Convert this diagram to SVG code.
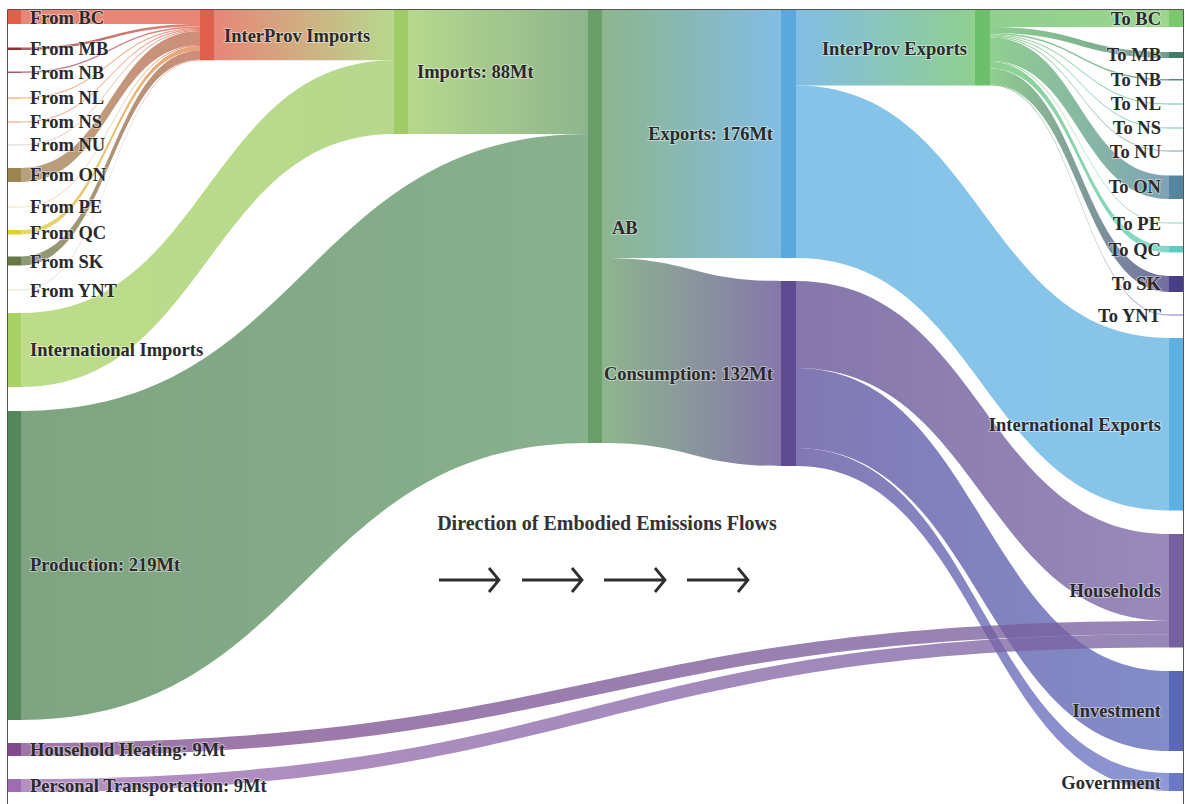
<svg xmlns="http://www.w3.org/2000/svg" width="1185" height="804" viewBox="0 0 1185 804">
<style>
.lbl{font-family:"Liberation Serif","Times New Roman",serif;font-weight:bold;font-size:18.5px;fill:#2a2a2a;paint-order:stroke;stroke:#fff;stroke-width:2px;stroke-opacity:0.45;stroke-linejoin:round}
.r{text-anchor:end}
.ttl{font-family:"Liberation Serif","Times New Roman",serif;font-weight:bold;font-size:20px;fill:#333;text-anchor:middle}
.lk{opacity:0.76}
.arr{fill:none;stroke:#2e2e2e;stroke-width:2.8;stroke-linecap:butt;stroke-linejoin:miter}
.frame{fill:none;stroke:#555;stroke-width:1}
</style>
<defs>
<linearGradient id="gBC" gradientUnits="userSpaceOnUse" x1="21" y1="0" x2="200" y2="0"><stop offset="0" stop-color="#e0604c"/><stop offset="1" stop-color="#e0604c"/></linearGradient>
<linearGradient id="gMB" gradientUnits="userSpaceOnUse" x1="21" y1="0" x2="200" y2="0"><stop offset="0" stop-color="#8e2f2f"/><stop offset="1" stop-color="#e0604c"/></linearGradient>
<linearGradient id="gNB" gradientUnits="userSpaceOnUse" x1="21" y1="0" x2="200" y2="0"><stop offset="0" stop-color="#a4587a"/><stop offset="1" stop-color="#e0604c"/></linearGradient>
<linearGradient id="gNL" gradientUnits="userSpaceOnUse" x1="21" y1="0" x2="200" y2="0"><stop offset="0" stop-color="#f09848"/><stop offset="1" stop-color="#e0604c"/></linearGradient>
<linearGradient id="gNS" gradientUnits="userSpaceOnUse" x1="21" y1="0" x2="200" y2="0"><stop offset="0" stop-color="#e89a68"/><stop offset="1" stop-color="#e0604c"/></linearGradient>
<linearGradient id="gNU" gradientUnits="userSpaceOnUse" x1="21" y1="0" x2="200" y2="0"><stop offset="0" stop-color="#d8cfc8"/><stop offset="1" stop-color="#e0604c"/></linearGradient>
<linearGradient id="gON" gradientUnits="userSpaceOnUse" x1="21" y1="0" x2="200" y2="0"><stop offset="0" stop-color="#9c8450"/><stop offset="1" stop-color="#c06a50"/></linearGradient>
<linearGradient id="gPE" gradientUnits="userSpaceOnUse" x1="21" y1="0" x2="200" y2="0"><stop offset="0" stop-color="#f0e4a8"/><stop offset="1" stop-color="#e0604c"/></linearGradient>
<linearGradient id="gQC" gradientUnits="userSpaceOnUse" x1="21" y1="0" x2="200" y2="0"><stop offset="0" stop-color="#dcd234"/><stop offset="1" stop-color="#e08050"/></linearGradient>
<linearGradient id="gSK" gradientUnits="userSpaceOnUse" x1="21" y1="0" x2="200" y2="0"><stop offset="0" stop-color="#667845"/><stop offset="1" stop-color="#c06a50"/></linearGradient>
<linearGradient id="gYNT" gradientUnits="userSpaceOnUse" x1="21" y1="0" x2="200" y2="0"><stop offset="0" stop-color="#dcdcc4"/><stop offset="1" stop-color="#e0604c"/></linearGradient>
<linearGradient id="gIPI" gradientUnits="userSpaceOnUse" x1="214" y1="0" x2="394" y2="0"><stop offset="0" stop-color="#e0604c"/><stop offset="1" stop-color="#a0cc68"/></linearGradient>
<linearGradient id="gII" gradientUnits="userSpaceOnUse" x1="21" y1="0" x2="394" y2="0"><stop offset="0" stop-color="#a8d265"/><stop offset="1" stop-color="#a0cc68"/></linearGradient>
<linearGradient id="gPROD" gradientUnits="userSpaceOnUse" x1="21" y1="0" x2="588" y2="0"><stop offset="0" stop-color="#55875a"/><stop offset="1" stop-color="#64986a"/></linearGradient>
<linearGradient id="gIMP" gradientUnits="userSpaceOnUse" x1="408" y1="0" x2="588" y2="0"><stop offset="0" stop-color="#a0cc68"/><stop offset="1" stop-color="#6a9e6a"/></linearGradient>
<linearGradient id="gABE" gradientUnits="userSpaceOnUse" x1="602" y1="0" x2="781" y2="0"><stop offset="0" stop-color="#6a9e6a"/><stop offset="1" stop-color="#5aa8dc"/></linearGradient>
<linearGradient id="gABC" gradientUnits="userSpaceOnUse" x1="602" y1="0" x2="781" y2="0"><stop offset="0" stop-color="#6a9e6a"/><stop offset="1" stop-color="#5f4c90"/></linearGradient>
<linearGradient id="gEIPE" gradientUnits="userSpaceOnUse" x1="796" y1="0" x2="975" y2="0"><stop offset="0" stop-color="#5aa8dc"/><stop offset="1" stop-color="#6cc06c"/></linearGradient>
<linearGradient id="gEIE" gradientUnits="userSpaceOnUse" x1="796" y1="0" x2="1169" y2="0"><stop offset="0" stop-color="#5eb0e2"/><stop offset="1" stop-color="#62b2e2"/></linearGradient>
<linearGradient id="gCH" gradientUnits="userSpaceOnUse" x1="796" y1="0" x2="1169" y2="0"><stop offset="0" stop-color="#5f4c90"/><stop offset="1" stop-color="#7a64a4"/></linearGradient>
<linearGradient id="gCI" gradientUnits="userSpaceOnUse" x1="796" y1="0" x2="1169" y2="0"><stop offset="0" stop-color="#5a4e9c"/><stop offset="1" stop-color="#5a68b8"/></linearGradient>
<linearGradient id="gCG" gradientUnits="userSpaceOnUse" x1="796" y1="0" x2="1169" y2="0"><stop offset="0" stop-color="#5a4e9c"/><stop offset="1" stop-color="#6a78c8"/></linearGradient>
<linearGradient id="gHH" gradientUnits="userSpaceOnUse" x1="21" y1="0" x2="1169" y2="0"><stop offset="0" stop-color="#804a8c"/><stop offset="1" stop-color="#7660a0"/></linearGradient>
<linearGradient id="gPT" gradientUnits="userSpaceOnUse" x1="21" y1="0" x2="1169" y2="0"><stop offset="0" stop-color="#9e6cb0"/><stop offset="1" stop-color="#7660a0"/></linearGradient>
<linearGradient id="tBC" gradientUnits="userSpaceOnUse" x1="990" y1="0" x2="1169" y2="0"><stop offset="0" stop-color="#6cc06c"/><stop offset="1" stop-color="#7cc86c"/></linearGradient>
<linearGradient id="tMB" gradientUnits="userSpaceOnUse" x1="990" y1="0" x2="1169" y2="0"><stop offset="0" stop-color="#6cc06c"/><stop offset="1" stop-color="#447c6c"/></linearGradient>
<linearGradient id="tNB" gradientUnits="userSpaceOnUse" x1="990" y1="0" x2="1169" y2="0"><stop offset="0" stop-color="#6cc06c"/><stop offset="1" stop-color="#4a907e"/></linearGradient>
<linearGradient id="tNL" gradientUnits="userSpaceOnUse" x1="990" y1="0" x2="1169" y2="0"><stop offset="0" stop-color="#6cc06c"/><stop offset="1" stop-color="#5cc09a"/></linearGradient>
<linearGradient id="tNS" gradientUnits="userSpaceOnUse" x1="990" y1="0" x2="1169" y2="0"><stop offset="0" stop-color="#6cc06c"/><stop offset="1" stop-color="#6ac4b0"/></linearGradient>
<linearGradient id="tNU" gradientUnits="userSpaceOnUse" x1="990" y1="0" x2="1169" y2="0"><stop offset="0" stop-color="#6cc06c"/><stop offset="1" stop-color="#7c98aa"/></linearGradient>
<linearGradient id="tON" gradientUnits="userSpaceOnUse" x1="990" y1="0" x2="1169" y2="0"><stop offset="0" stop-color="#6cc06c"/><stop offset="1" stop-color="#56869e"/></linearGradient>
<linearGradient id="tPE" gradientUnits="userSpaceOnUse" x1="990" y1="0" x2="1169" y2="0"><stop offset="0" stop-color="#6cc06c"/><stop offset="1" stop-color="#8cd2c2"/></linearGradient>
<linearGradient id="tQC" gradientUnits="userSpaceOnUse" x1="990" y1="0" x2="1169" y2="0"><stop offset="0" stop-color="#6cc06c"/><stop offset="1" stop-color="#5ccdc0"/></linearGradient>
<linearGradient id="tSK" gradientUnits="userSpaceOnUse" x1="990" y1="0" x2="1169" y2="0"><stop offset="0" stop-color="#6cc06c"/><stop offset="1" stop-color="#463e86"/></linearGradient>
<linearGradient id="tYNT" gradientUnits="userSpaceOnUse" x1="990" y1="0" x2="1169" y2="0"><stop offset="0" stop-color="#6cc06c"/><stop offset="1" stop-color="#7e76c2"/></linearGradient>
</defs>
<rect x="0" y="0" width="1185" height="804" fill="#fff"/>
<g id="connectors">
<path class="lk" fill="url(#gBC)" d="M21,10 L200,10 L200,24 L21,24 Z"/>
<path class="lk" fill="url(#gMB)" d="M21,47.5 C110.5,47.5 110.5,24 200,24 L200,26.5 C110.5,26.5 110.5,50 21,50 Z"/>
<path class="lk" fill="url(#gNB)" d="M21,71.5 C110.5,71.5 110.5,26.5 200,26.5 L200,28 C110.5,28 110.5,73 21,73 Z"/>
<path class="lk" fill="url(#gNL)" d="M21,97.5 C110.5,97.5 110.5,28 200,28 L200,29 C110.5,29 110.5,98.5 21,98.5 Z"/>
<path class="lk" fill="url(#gNS)" d="M21,121.5 C110.5,121.5 110.5,29 200,29 L200,30 C110.5,30 110.5,122.5 21,122.5 Z"/>
<path class="lk" fill="url(#gNU)" d="M21,144.5 C110.5,144.5 110.5,30 200,30 L200,31 C110.5,31 110.5,145.5 21,145.5 Z"/>
<path class="lk" fill="url(#gON)" d="M21,168 C110.5,168 110.5,31 200,31 L200,45 C110.5,45 110.5,182 21,182 Z"/>
<path class="lk" fill="url(#gPE)" d="M21,206.5 C110.5,206.5 110.5,45 200,45 L200,46 C110.5,46 110.5,207.5 21,207.5 Z"/>
<path class="lk" fill="url(#gQC)" d="M21,230 C110.5,230 110.5,46 200,46 L200,50.5 C110.5,50.5 110.5,234.5 21,234.5 Z"/>
<path class="lk" fill="url(#gSK)" d="M21,256.5 C110.5,256.5 110.5,50.5 200,50.5 L200,59.5 C110.5,59.5 110.5,265.5 21,265.5 Z"/>
<path class="lk" fill="url(#gYNT)" d="M21,289.5 C110.5,289.5 110.5,59.5 200,59.5 L200,60.3 C110.5,60.3 110.5,290.3 21,290.3 Z"/>
<path class="lk" fill="url(#gIPI)" d="M214,10 L394,10 L394,60.3 L214,60.3 Z"/>
<path class="lk" fill="url(#gII)" d="M21,313 C207.5,313 207.5,60.3 394,60.3 L394,134 C207.5,134 207.5,387 21,387 Z"/>
<path class="lk" fill="url(#gPROD)" d="M21,411 C304.5,411 304.5,134 588,134 L588,443 C304.5,443 304.5,720 21,720 Z"/>
<path class="lk" fill="url(#gIMP)" d="M408,10 L588,10 L588,134 L408,134 Z"/>
<path class="lk" fill="url(#gABE)" d="M602,10 L781,10 L781,258 L602,258 Z"/>
<path class="lk" fill="url(#gABC)" d="M602,258 C691.5,258 691.5,281 781,281 L781,466 C691.5,466 691.5,443 602,443 Z"/>
<path class="lk" fill="url(#gEIPE)" d="M796,10 L975,10 L975,85.5 L796,85.5 Z"/>
<path class="lk" fill="url(#gEIE)" d="M796,85.5 C982.5,85.5 982.5,338 1169,338 L1169,510.5 C982.5,510.5 982.5,258 796,258 Z"/>
<path class="lk" fill="url(#gCH)" d="M796,281 C982.5,281 982.5,534 1169,534 L1169,621 C982.5,621 982.5,368 796,368 Z"/>
<path class="lk" fill="url(#gCI)" d="M796,368 C982.5,368 982.5,671 1169,671 L1169,751 C982.5,751 982.5,448 796,448 Z"/>
<path class="lk" fill="url(#gCG)" d="M796,448 C982.5,448 982.5,773 1169,773 L1169,791 C982.5,791 982.5,466 796,466 Z"/>
<path class="lk" fill="url(#gHH)" d="M21,743 C595,743 595,621 1169,621 L1169,634.25 C595,634.25 595,756 21,756 Z"/>
<path class="lk" fill="url(#gPT)" d="M21,779 C595,779 595,634.25 1169,634.25 L1169,647.5 C595,647.5 595,792 21,792 Z"/>
<path class="lk" fill="url(#tBC)" d="M990,10 L1169,10 L1169,27 L990,27 Z"/>
<path class="lk" fill="url(#tMB)" d="M990,27 C1079.5,27 1079.5,52 1169,52 L1169,58 C1079.5,58 1079.5,33 990,33 Z"/>
<path class="lk" fill="url(#tNB)" d="M990,33 C1079.5,33 1079.5,79 1169,79 L1169,80.5 C1079.5,80.5 1079.5,34.5 990,34.5 Z"/>
<path class="lk" fill="url(#tNL)" d="M990,34.5 C1079.5,34.5 1079.5,103.5 1169,103.5 L1169,104.5 C1079.5,104.5 1079.5,35.5 990,35.5 Z"/>
<path class="lk" fill="url(#tNS)" d="M990,35.5 C1079.5,35.5 1079.5,127.5 1169,127.5 L1169,128.5 C1079.5,128.5 1079.5,36.5 990,36.5 Z"/>
<path class="lk" fill="url(#tNU)" d="M990,36.5 C1079.5,36.5 1079.5,150.5 1169,150.5 L1169,151.5 C1079.5,151.5 1079.5,37.5 990,37.5 Z"/>
<path class="lk" fill="url(#tON)" d="M990,37.5 C1079.5,37.5 1079.5,175.5 1169,175.5 L1169,199 C1079.5,199 1079.5,61 990,61 Z"/>
<path class="lk" fill="url(#tPE)" d="M990,61 C1079.5,61 1079.5,222.5 1169,222.5 L1169,223.5 C1079.5,223.5 1079.5,62 990,62 Z"/>
<path class="lk" fill="url(#tQC)" d="M990,62 C1079.5,62 1079.5,246 1169,246 L1169,252.5 C1079.5,252.5 1079.5,68.5 990,68.5 Z"/>
<path class="lk" fill="url(#tSK)" d="M990,68.5 C1079.5,68.5 1079.5,276 1169,276 L1169,292 C1079.5,292 1079.5,84.5 990,84.5 Z"/>
<path class="lk" fill="url(#tYNT)" d="M990,84.5 C1079.5,84.5 1079.5,314.5 1169,314.5 L1169,315.5 C1079.5,315.5 1079.5,85.5 990,85.5 Z"/>
</g>
<g id="n-from-bc"><rect x="7" y="10" width="14" height="14" fill="#e0604c"/><text class="lbl" x="30" y="24">From BC</text></g>
<g id="n-from-mb"><rect x="7" y="47.5" width="14" height="2.5" fill="#8e2f2f"/><text class="lbl" x="30" y="55">From MB</text></g>
<g id="n-from-nb"><rect x="7" y="71.5" width="14" height="1.5" fill="#a4587a"/><text class="lbl" x="30" y="79">From NB</text></g>
<g id="n-from-nl"><rect x="7" y="97.5" width="14" height="1" fill="#f09848"/><text class="lbl" x="30" y="104">From NL</text></g>
<g id="n-from-ns"><rect x="7" y="121.5" width="14" height="1" fill="#e89a68"/><text class="lbl" x="30" y="128">From NS</text></g>
<g id="n-from-nu"><rect x="7" y="144.5" width="14" height="1" fill="#d8cfc8"/><text class="lbl" x="30" y="151">From NU</text></g>
<g id="n-from-on"><rect x="7" y="168" width="14" height="14" fill="#9c8450"/><text class="lbl" x="30" y="181">From ON</text></g>
<g id="n-from-pe"><rect x="7" y="206.5" width="14" height="1" fill="#f0e4a8"/><text class="lbl" x="30" y="213">From PE</text></g>
<g id="n-from-qc"><rect x="7" y="230" width="14" height="4.5" fill="#dcd234"/><text class="lbl" x="30" y="239">From QC</text></g>
<g id="n-from-sk"><rect x="7" y="256.5" width="14" height="9" fill="#667845"/><text class="lbl" x="30" y="268">From SK</text></g>
<g id="n-from-ynt"><rect x="7" y="289.5" width="14" height="0.8" fill="#dcdcc4"/><text class="lbl" x="30" y="297">From YNT</text></g>
<g id="n-intl-imports"><rect x="7" y="313" width="14" height="74" fill="#a8d265"/><text class="lbl" x="30" y="356">International Imports</text></g>
<g id="n-production"><rect x="7" y="411" width="14" height="309" fill="#55875a"/><text class="lbl" x="30" y="571">Production: 219Mt</text></g>
<g id="n-household-heating"><rect x="7" y="743" width="14" height="13" fill="#804a8c"/><text class="lbl" x="30" y="756">Household Heating: 9Mt</text></g>
<g id="n-personal-transport"><rect x="7" y="779" width="14" height="13" fill="#9e6cb0"/><text class="lbl" x="30" y="792">Personal Transportation: 9Mt</text></g>
<g id="n-interprov-imports"><rect x="200" y="10" width="14" height="50.3" fill="#e0604c"/><text class="lbl" x="224" y="42">InterProv Imports</text></g>
<g id="n-imports"><rect x="394" y="10" width="14" height="124" fill="#a0cc68"/><text class="lbl" x="417" y="78">Imports: 88Mt</text></g>
<g id="n-ab"><rect x="588" y="10" width="14" height="433" fill="#6a9e6a"/><text class="lbl" x="612" y="234">AB</text></g>
<g id="n-exports"><rect x="781" y="10" width="15" height="248" fill="#5aa8dc"/><text class="lbl r" x="773" y="140">Exports: 176Mt</text></g>
<g id="n-consumption"><rect x="781" y="281" width="15" height="185" fill="#5f4c90"/><text class="lbl r" x="773" y="380">Consumption: 132Mt</text></g>
<g id="n-interprov-exports"><rect x="975" y="10" width="15" height="75.5" fill="#6cc06c"/><text class="lbl r" x="967" y="55">InterProv Exports</text></g>
<g id="n-to-bc"><rect x="1169" y="10" width="14" height="17" fill="#7cc86c"/><text class="lbl r" x="1161" y="25">To BC</text></g>
<g id="n-to-mb"><rect x="1169" y="52" width="14" height="6" fill="#447c6c"/><text class="lbl r" x="1161" y="61">To MB</text></g>
<g id="n-to-nb"><rect x="1169" y="79" width="14" height="1.5" fill="#4a907e"/><text class="lbl r" x="1161" y="86">To NB</text></g>
<g id="n-to-nl"><rect x="1169" y="103.5" width="14" height="1" fill="#5cc09a"/><text class="lbl r" x="1161" y="110">To NL</text></g>
<g id="n-to-ns"><rect x="1169" y="127.5" width="14" height="1" fill="#6ac4b0"/><text class="lbl r" x="1161" y="134">To NS</text></g>
<g id="n-to-nu"><rect x="1169" y="150.5" width="14" height="1" fill="#7c98aa"/><text class="lbl r" x="1161" y="158">To NU</text></g>
<g id="n-to-on"><rect x="1169" y="175.5" width="14" height="23.5" fill="#56869e"/><text class="lbl r" x="1161" y="193">To ON</text></g>
<g id="n-to-pe"><rect x="1169" y="222.5" width="14" height="1" fill="#8cd2c2"/><text class="lbl r" x="1161" y="230">To PE</text></g>
<g id="n-to-qc"><rect x="1169" y="246" width="14" height="6.5" fill="#5ccdc0"/><text class="lbl r" x="1161" y="256">To QC</text></g>
<g id="n-to-sk"><rect x="1169" y="276" width="14" height="16" fill="#463e86"/><text class="lbl r" x="1161" y="290">To SK</text></g>
<g id="n-to-ynt"><rect x="1169" y="314.5" width="14" height="1" fill="#7e76c2"/><text class="lbl r" x="1161" y="322">To YNT</text></g>
<g id="n-intl-exports"><rect x="1169" y="338" width="14" height="172.5" fill="#5eb0e0"/><text class="lbl r" x="1161" y="431">International Exports</text></g>
<g id="n-households"><rect x="1169" y="534" width="14" height="113.5" fill="#7660a0"/><text class="lbl r" x="1161" y="597">Households</text></g>
<g id="n-investment"><rect x="1169" y="671" width="14" height="80" fill="#5a68b8"/><text class="lbl r" x="1161" y="717">Investment</text></g>
<g id="n-government"><rect x="1169" y="773" width="14" height="18" fill="#6a78c8"/><text class="lbl r" x="1161" y="789">Government</text></g>
<g id="legend">
<text class="ttl" x="607" y="530">Direction of Embodied Emissions Flows</text>
<path class="arr" d="M439,580 H498 M489,568 L499,580 L489,592"/>
<path class="arr" d="M522,580 H581 M572,568 L582,580 L572,592"/>
<path class="arr" d="M604,580 H664 M655,568 L665,580 L655,592"/>
<path class="arr" d="M687,580 H747 M738,568 L748,580 L738,592"/>
</g>
<path class="frame" d="M7.5,804 V9.5 H1183.5 V804"/>
</svg>
